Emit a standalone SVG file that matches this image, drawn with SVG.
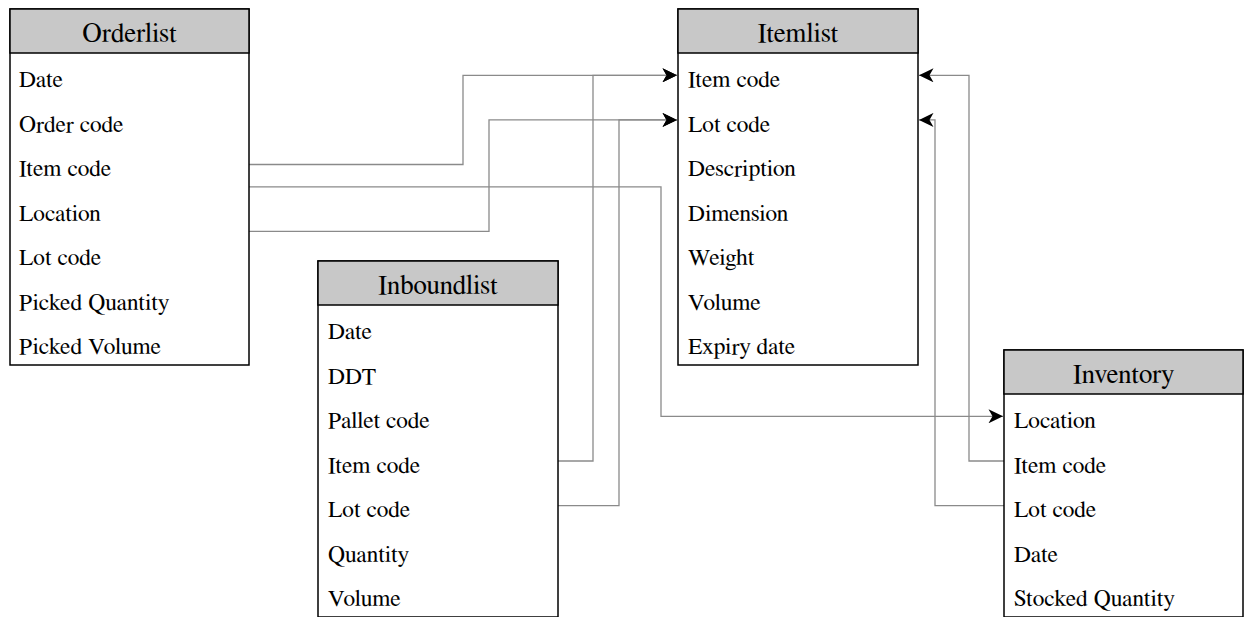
<svg xmlns="http://www.w3.org/2000/svg" width="1244" height="617" viewBox="0 0 1244 617">
<style>
.box{fill:#fff;stroke:#000;stroke-width:1.5}
.hdr{fill:#c8c8c8;stroke:#000;stroke-width:1.5}
.t{font-family:'Nimbus Roman','Nimbus Roman No9 L',FreeSerif,Tinos,Times,'DejaVu Serif',serif;font-size:23.5px;fill:#000}
.h{font-family:'Nimbus Roman','Nimbus Roman No9 L',FreeSerif,Tinos,Times,'DejaVu Serif',serif;font-size:27px;fill:#000;text-anchor:middle}
.c{fill:none;stroke:#8a8a8a;stroke-width:1.3}
</style>
<defs>
<marker id="arr" viewBox="0 0 16 14" refX="15" refY="7" markerWidth="16" markerHeight="14" markerUnits="userSpaceOnUse" orient="auto">
<path d="M15,7 L0.5,0 L4.5,7 L0.5,14 Z" fill="#000"/>
</marker>
</defs>
<rect width="1244" height="617" fill="#fff"/>
<g id="connectors">
<path class="c" d="M249,164.5 H463 V75.3 H677" marker-end="url(#arr)"/>
<path class="c" d="M249,231.4 H489 V119.9 H677" marker-end="url(#arr)"/>
<path class="c" d="M249,186.8 H661 V416.3 H1003" marker-end="url(#arr)"/>
<path class="c" d="M558,461 H593 V75.3 H677" marker-end="url(#arr)"/>
<path class="c" d="M558,505.6 H619 V119.9 H677" marker-end="url(#arr)"/>
<path class="c" d="M1004,461 H969 V75.3 H919" marker-end="url(#arr)"/>
<path class="c" d="M1004,505.6 H935 V119.9 H919" marker-end="url(#arr)"/>
</g>
<g id="orderlist">
<rect class="box" x="10" y="9" width="239" height="356"/>
<rect class="hdr" x="10" y="9" width="239" height="44"/>
<text class="h" x="129.5" y="42">Orderlist</text>
<text class="t" x="19" y="87">Date</text>
<text class="t" x="19" y="131.6">Order code</text>
<text class="t" x="19" y="176.1">Item code</text>
<text class="t" x="19" y="220.7">Location</text>
<text class="t" x="19" y="265.3">Lot code</text>
<text class="t" x="19" y="309.9">Picked Quantity</text>
<text class="t" x="19" y="354.4">Picked Volume</text>
</g>
<g id="itemlist">
<rect class="box" x="678" y="9" width="240" height="356"/>
<rect class="hdr" x="678" y="9" width="240" height="44"/>
<text class="h" x="798" y="42">Itemlist</text>
<text class="t" x="688" y="87">Item code</text>
<text class="t" x="688" y="131.6">Lot code</text>
<text class="t" x="688" y="176.1">Description</text>
<text class="t" x="688" y="220.7">Dimension</text>
<text class="t" x="688" y="265.3">Weight</text>
<text class="t" x="688" y="309.9">Volume</text>
<text class="t" x="688" y="354.4">Expiry date</text>
</g>
<g id="inboundlist">
<rect class="box" x="318" y="261" width="240" height="356"/>
<rect class="hdr" x="318" y="261" width="240" height="44"/>
<text class="h" x="438" y="294">Inboundlist</text>
<text class="t" x="328" y="339">Date</text>
<text class="t" x="328" y="383.6">DDT</text>
<text class="t" x="328" y="428.1">Pallet code</text>
<text class="t" x="328" y="472.7">Item code</text>
<text class="t" x="328" y="517.3">Lot code</text>
<text class="t" x="328" y="561.9">Quantity</text>
<text class="t" x="328" y="606.4">Volume</text>
</g>
<g id="inventory">
<rect class="box" x="1004" y="350" width="239" height="267"/>
<rect class="hdr" x="1004" y="350" width="239" height="44"/>
<text class="h" x="1123.5" y="383">Inventory</text>
<text class="t" x="1014" y="428">Location</text>
<text class="t" x="1014" y="472.6">Item code</text>
<text class="t" x="1014" y="517.1">Lot code</text>
<text class="t" x="1014" y="561.7">Date</text>
<text class="t" x="1014" y="606.3">Stocked Quantity</text>
</g>
</svg>
